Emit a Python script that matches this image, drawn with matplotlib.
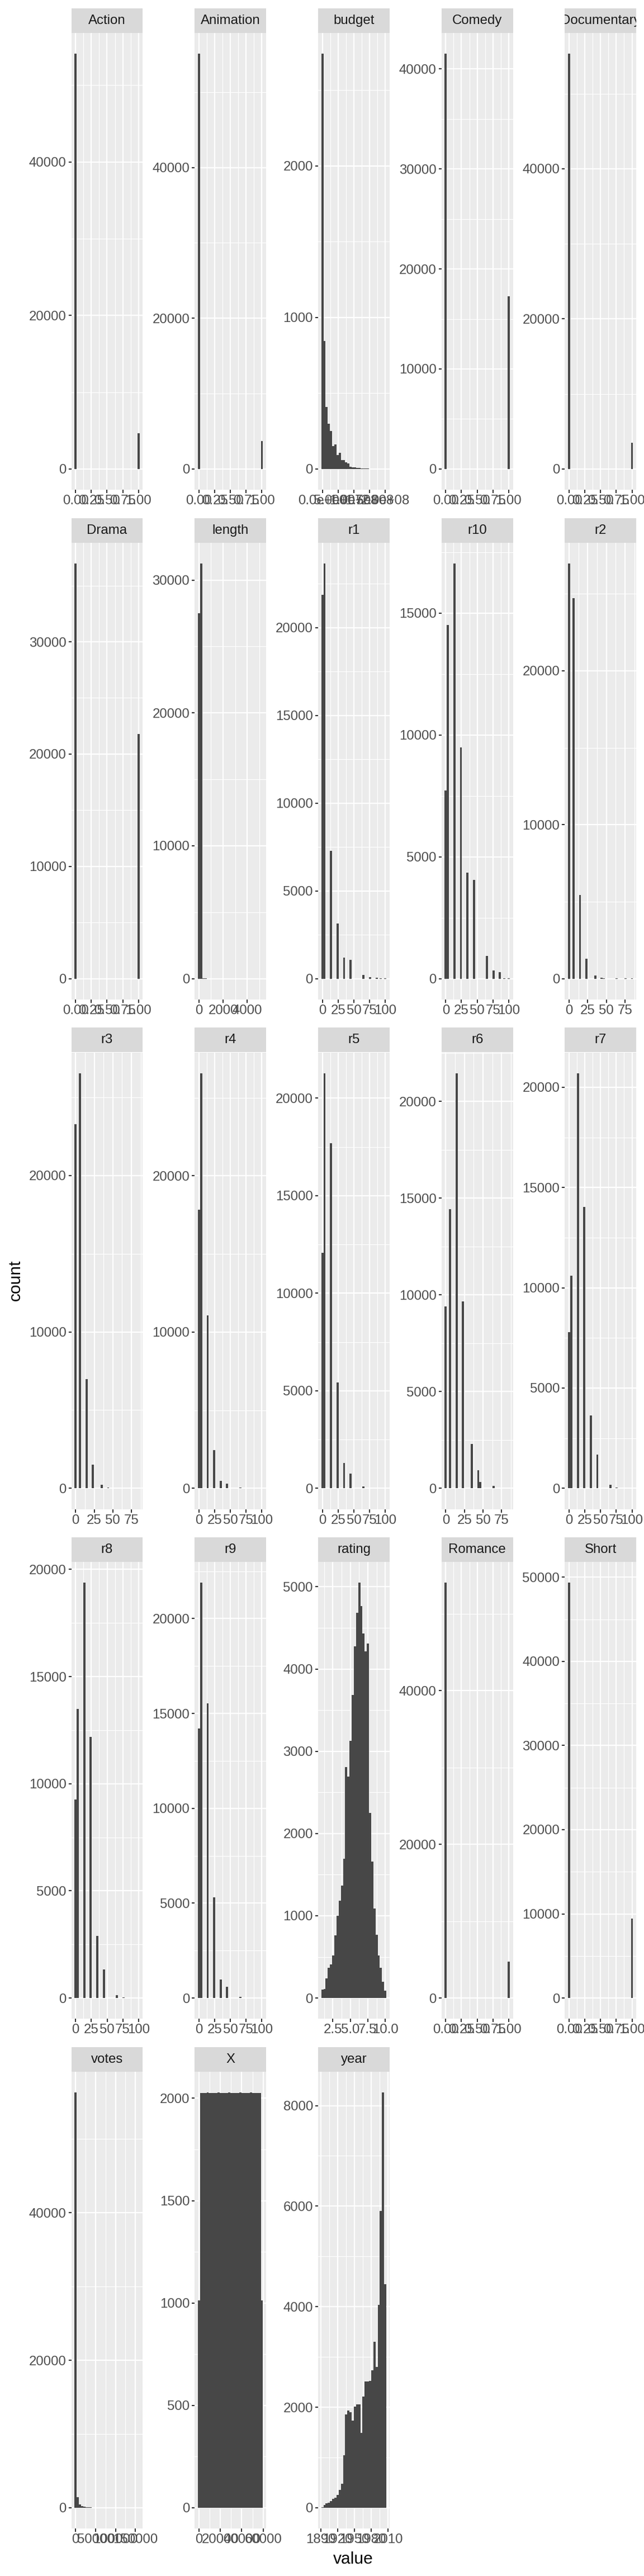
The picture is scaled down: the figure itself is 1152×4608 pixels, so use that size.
import numpy as np
import matplotlib
matplotlib.use("Agg")
import matplotlib.pyplot as plt

plt.rcParams['font.family'] = ['Liberation Sans', 'DejaVu Sans']

# ---- data: movies columns, one histogram (30 bins) per column ----
panel_names = ["Action", "Animation", "budget", "Comedy", "Documentary",
               "Drama", "length", "r1", "r10", "r2",
               "r3", "r4", "r5", "r6", "r7",
               "r8", "r9", "rating", "Romance", "Short",
               "votes", "X", "year"]

# genre flags (value 0 / value 1)
flag_values = [0, 1]
action_counts = [54100, 4688]
animation_counts = [55098, 3690]
comedy_counts = [41517, 17271]
documentary_counts = [55316, 3472]
drama_counts = [36977, 21811]
romance_counts = [54044, 4744]
short_counts = [49330, 9458]

# r1..r10 only take these percentages
r_values = [0, 4.5, 14.5, 24.5, 34.5, 44.5, 45.5, 64.5, 74.5, 84.5, 94.5, 100]
r1_counts = [21885, 23663, 7295, 3143, 1197, 800, 266, 224, 94, 40, 20, 20]
r2_counts = [26972, 24733, 5437, 1279, 213, 50, 14, 10, 5, 5, 0, 0]
r3_counts = [23300, 26550, 6990, 1520, 215, 45, 15, 12, 6, 5, 0, 0]
r4_counts = [17815, 26575, 11071, 2458, 462, 220, 74, 40, 8, 5, 3, 2]
r5_counts = [12076, 21278, 17699, 5432, 1295, 560, 197, 84, 12, 5, 3, 2]
r6_counts = [9413, 14417, 21459, 9667, 2290, 933, 339, 136, 12, 10, 0, 0]
r7_counts = [7774, 10589, 20704, 14043, 3633, 1250, 436, 164, 30, 20, 5, 5]
r8_counts = [9265, 13476, 19372, 12174, 2910, 1000, 332, 122, 20, 15, 5, 5]
r9_counts = [14221, 21886, 15536, 5311, 986, 450, 156, 52, 10, 5, 3, 2]
r10_counts = [7731, 14518, 17036, 9494, 4350, 3000, 1040, 929, 337, 270, 25, 15]

# continuous columns: data range and the 30 bin counts
budget_range = (0, 2.0e8)
budget_counts = [2740, 845, 410, 300, 250, 150, 160, 90, 105, 60,
                 60, 45, 35, 15, 12, 10, 8, 6, 5, 3,
                 4, 2, 1, 1, 1, 0, 0, 0, 0, 1]
length_range = (1, 5220)
length_counts = [27500, 31250, 22, 5, 3, 1, 1, 0, 0, 0,
                 0, 0, 1, 0, 0, 0, 0, 0, 0, 0,
                 0, 0, 0, 0, 0, 0, 0, 0, 0, 1]
rating_range = (1, 10)
rating_counts = [100, 112, 240, 367, 407, 519, 759, 998, 1186, 1370,
                 1693, 2807, 2692, 3127, 3682, 4273, 4684, 5048, 4764, 4433,
                 4213, 4313, 2248, 1657, 1090, 771, 519, 371, 200, 88]
votes_range = (5, 157608)
votes_counts = [56300, 1450, 480, 230, 120, 70, 45, 30, 20, 12,
                8, 6, 4, 3, 2, 2, 1, 1, 1, 0,
                1, 0, 0, 0, 0, 0, 0, 0, 0, 1]
x_range = (1, 58788)
x_counts = [1014, 2027, 2027, 2027, 2028, 2027, 2027, 2027, 2027, 2028,
            2027, 2027, 2027, 2027, 2028, 2027, 2027, 2027, 2027, 2028,
            2027, 2027, 2027, 2027, 2028, 2027, 2027, 2027, 2027, 1013]
year_range = (1893, 2005)
year_counts = [15, 57, 86, 100, 129, 172, 200, 250, 357, 480,
               1040, 1860, 1930, 1900, 1730, 2015, 2060, 2060, 1490, 2215,
               2515, 2515, 2525, 2730, 3300, 2800, 4040, 5900, 8260, 4450]

# tick breaks per panel
flag_ticks = [0, 0.25, 0.5, 0.75, 1.0]
flag_labels = ["0.00", "0.25", "0.50", "0.75", "1.00"]
r100_ticks = [0, 25, 50, 75, 100]
r85_ticks = [0, 25, 50, 75]
x_breaks = {
    "budget": ([0, 5e7, 1e8, 1.5e8, 2e8], ["0.0e+00", "5.0e+07", "1.0e+08", "1.5e+08", "2.0e+08"]),
    "length": ([0, 2000, 4000], ["0", "2000", "4000"]),
    "rating": ([2.5, 5.0, 7.5, 10.0], ["2.5", "5.0", "7.5", "10.0"]),
    "votes": ([0, 50000, 100000, 150000], ["0", "50000", "100000", "150000"]),
    "X": ([0, 20000, 40000, 60000], ["0", "20000", "40000", "60000"]),
    "year": ([1890, 1920, 1950, 1980, 2010], ["1890", "1920", "1950", "1980", "2010"]),
}
y_breaks = {
    "Action": [0, 20000, 40000], "Animation": [0, 20000, 40000],
    "budget": [0, 1000, 2000], "Comedy": [0, 10000, 20000, 30000, 40000],
    "Documentary": [0, 20000, 40000], "Drama": [0, 10000, 20000, 30000],
    "length": [0, 10000, 20000, 30000], "r1": [0, 5000, 10000, 15000, 20000],
    "r10": [0, 5000, 10000, 15000], "r2": [0, 10000, 20000],
    "r3": [0, 10000, 20000], "r4": [0, 10000, 20000],
    "r5": [0, 5000, 10000, 15000, 20000], "r6": [0, 5000, 10000, 15000, 20000],
    "r7": [0, 5000, 10000, 15000, 20000], "r8": [0, 5000, 10000, 15000, 20000],
    "r9": [0, 5000, 10000, 15000, 20000], "rating": [0, 1000, 2000, 3000, 4000, 5000],
    "Romance": [0, 20000, 40000], "Short": [0, 10000, 20000, 30000, 40000, 50000],
    "votes": [0, 20000, 40000], "X": [0, 500, 1000, 1500, 2000],
    "year": [0, 2000, 4000, 6000, 8000],
}

discrete = {
    "Action": (flag_values, action_counts), "Animation": (flag_values, animation_counts),
    "Comedy": (flag_values, comedy_counts), "Documentary": (flag_values, documentary_counts),
    "Drama": (flag_values, drama_counts), "Romance": (flag_values, romance_counts),
    "Short": (flag_values, short_counts),
    "r1": (r_values, r1_counts), "r2": (r_values, r2_counts), "r3": (r_values, r3_counts),
    "r4": (r_values, r4_counts), "r5": (r_values, r5_counts), "r6": (r_values, r6_counts),
    "r7": (r_values, r7_counts), "r8": (r_values, r8_counts), "r9": (r_values, r9_counts),
    "r10": (r_values, r10_counts),
}
binned = {
    "budget": (budget_range, budget_counts), "length": (length_range, length_counts),
    "rating": (rating_range, rating_counts), "votes": (votes_range, votes_counts),
    "X": (x_range, x_counts), "year": (year_range, year_counts),
}

# ---- style (ggplot theme_grey look) ----
W, H = 1152, 4608
DPI = 100
PT = 72 / DPI          # pixels -> points
BAR = "#474747"
PANEL_BG = "#EBEBEB"
STRIP_BG = "#D9D9D9"
TICK_TXT = "#4D4D4D"

fig = plt.figure(figsize=(W / DPI, H / DPI), dpi=DPI)


def px_axes(left, top, width, height):
    return fig.add_axes([left / W, 1 - (top + height) / H, width / W, height / H])


def gg_edges(lo, hi, n=30):
    w = (hi - lo) / (n - 1)
    return lo - w / 2 + w * np.arange(n + 1), w


def minor_breaks(b, lim):
    b = list(b)
    step = b[1] - b[0]
    if lim[0] < b[0]:
        b = [b[0] - step] + b
    if lim[1] > b[-1]:
        b = b + [b[-1] + step]
    mids = [(a + c) / 2 for a, c in zip(b[:-1], b[1:])]
    return [m for m in mids if lim[0] <= m <= lim[1]]


for i, name in enumerate(panel_names):
    row, col = divmod(i, 5)
    left = 127.5 + 220.7 * col
    strip_top = 15 + 911.75 * row
    panel_w, strip_h, panel_h = 128, 44, 817

    # histogram counts
    if name in discrete:
        vals, wts = discrete[name]
        used = [v for v, c in zip(vals, wts) if c > 0]
        edges, w = gg_edges(min(used), max(used))
        counts, _ = np.histogram(vals, bins=edges, weights=wts)
    else:
        (lo, hi), counts = binned[name]
        edges, w = gg_edges(lo, hi)
        counts = np.asarray(counts, dtype=float)

    ax = px_axes(left, strip_top + strip_h, panel_w, panel_h)
    ax.set_facecolor(PANEL_BG)
    ax.bar(edges[:-1], counts, width=w, align="edge", color=BAR, linewidth=0, zorder=3)

    span = edges[-1] - edges[0]
    xlim = (edges[0] - 0.05 * span, edges[-1] + 0.05 * span)
    ylim = (-0.05 * counts.max(), 1.05 * counts.max())
    ax.set_xlim(xlim)
    ax.set_ylim(ylim)

    if name in x_breaks:
        xt, xl = x_breaks[name]
    elif name in flag_values or name in ("Action", "Animation", "Comedy", "Documentary",
                                         "Drama", "Romance", "Short"):
        xt, xl = flag_ticks, flag_labels
    else:
        xt = r100_ticks if max(edges) > 90 else r85_ticks
        xl = [str(t) for t in xt]
    yt = y_breaks[name]

    ax.set_xticks(xt)
    ax.set_xticklabels(xl)
    ax.set_yticks(yt)
    ax.set_yticklabels([str(t) for t in yt])
    ax.set_xticks(minor_breaks(xt, xlim), minor=True)
    ax.set_yticks(minor_breaks(yt, ylim), minor=True)

    ax.grid(which="major", color="white", linewidth=2.2 * PT, zorder=1)
    ax.grid(which="minor", color="white", linewidth=1.1 * PT, zorder=1)
    ax.set_axisbelow(True)
    for s in ax.spines.values():
        s.set_visible(False)
    ax.tick_params(which="major", length=5.5 * PT, width=2.0 * PT, color="#333333",
                   labelcolor=TICK_TXT, labelsize=24 * PT, pad=3.5 * PT)
    ax.tick_params(which="minor", length=0)

    # facet strip
    sax = px_axes(left, strip_top, panel_w, strip_h)
    sax.set_facecolor(STRIP_BG)
    sax.set_xticks([])
    sax.set_yticks([])
    for s in sax.spines.values():
        s.set_visible(False)
    sax.text(0.5, 0.5, name, ha="center", va="center", fontsize=24 * PT,
             color="#1A1A1A", transform=sax.transAxes, clip_on=True)

fig.text(28 / W, 1 - 2290 / H, "count", rotation=90, ha="center", va="center",
         fontsize=30 * PT, color="black")
fig.text(632 / W, 1 - 4578 / H, "value", ha="center", va="center",
         fontsize=30 * PT, color="black")

fig.savefig("out.png", dpi=DPI, facecolor="white")
